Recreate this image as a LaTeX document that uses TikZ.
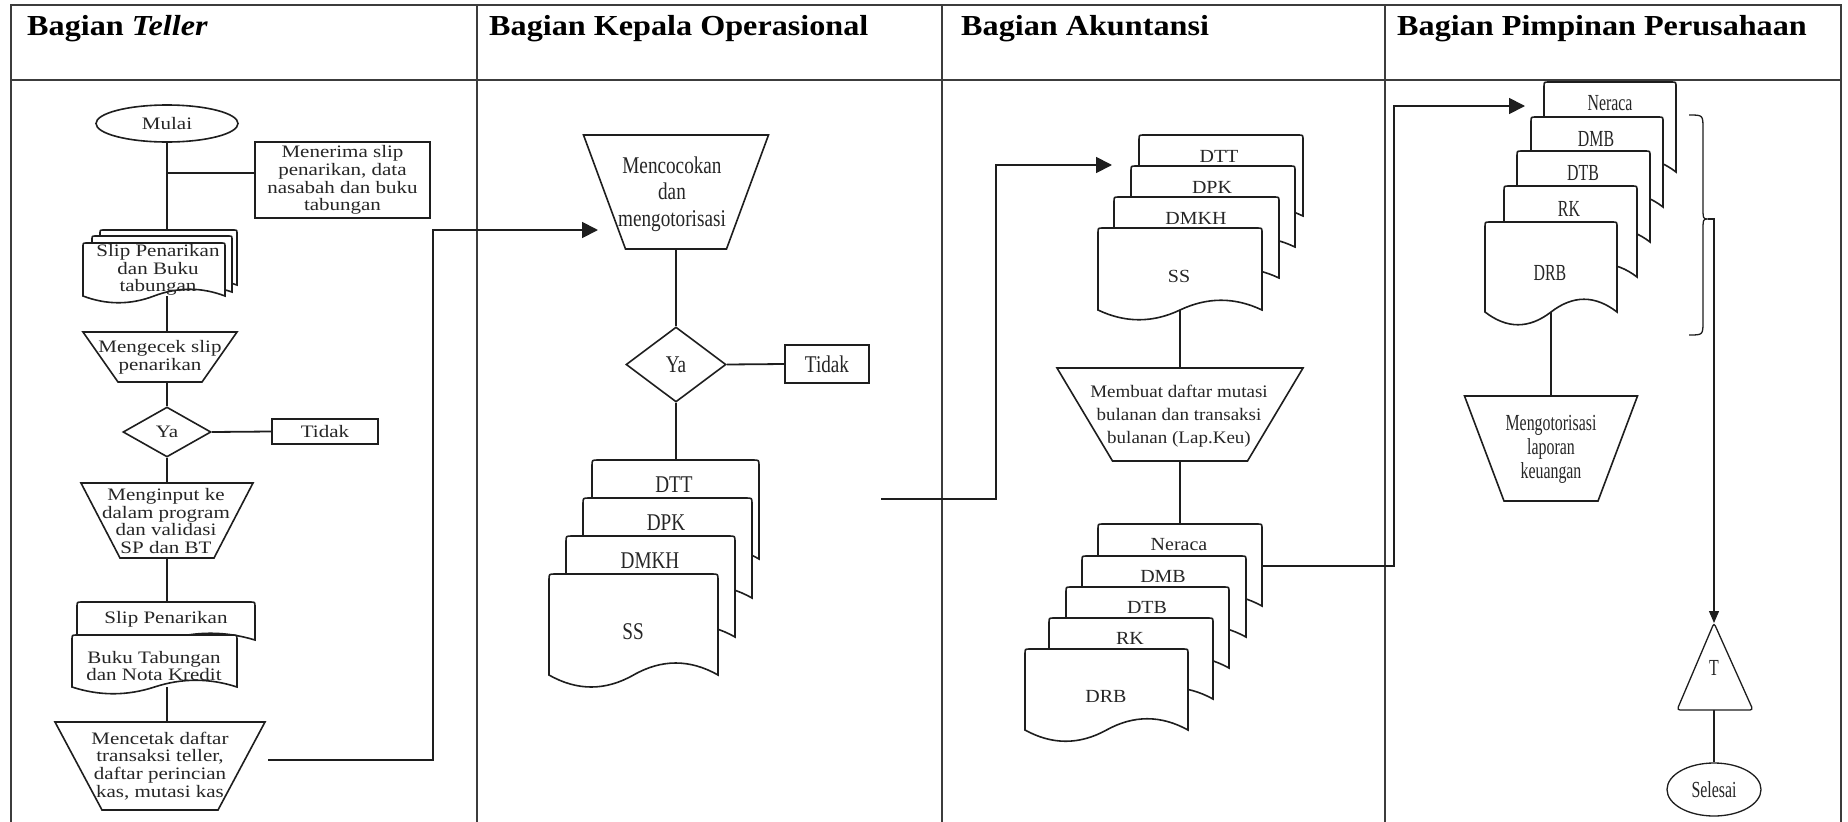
\documentclass[tikz,border=0pt]{standalone}
\usepackage{fontspec}
\setmainfont{Liberation Serif}
\newfontfamily\fT{Liberation Serif}[FakeStretch=1.11]
\newfontfamily\fA{Liberation Serif}[FakeStretch=1.2]
\newfontfamily\fB{Liberation Serif}[FakeStretch=0.8]
\newfontfamily\fC{Liberation Serif}[FakeStretch=1.08]
\newfontfamily\fD{Liberation Serif}[FakeStretch=0.69]
\usetikzlibrary{shapes.geometric,arrows.meta}
\pgfdeclarelayer{bg}
\pgfsetlayers{bg,main}
\definecolor{ln}{HTML}{1E1E1E}
\definecolor{tx}{HTML}{262626}
\definecolor{grid}{HTML}{3C3C3C}
\tikzset{
  shp/.style={draw=ln,line width=1.6pt,fill=white},
  conn/.style={draw=ln,line width=1.8pt},
  bigarr/.style={conn,-{Triangle[length=16pt,width=16pt]}},
  smallarr/.style={draw=ln,line width=1.3pt,-{Triangle[length=12pt,width=10pt]}},
  gridline/.style={draw=grid,line width=2pt},
  head/.style={font=\fT\bfseries\fontsize{29}{32}\selectfont,anchor=base west,inner sep=0},
  tA/.style={font=\fA\fontsize{17.5}{17.8}\selectfont,align=center,inner sep=0,text=tx},
  tB/.style={font=\fB\fontsize{24}{26.7}\selectfont,align=center,inner sep=0,text=tx},
  tC/.style={font=\fC\fontsize{17.6}{22.8}\selectfont,align=center,inner sep=0,text=tx},
  tCd/.style={font=\fC\fontsize{18.5}{20}\selectfont,align=center,inner sep=0,text=tx},
  tD/.style={font=\fD\fontsize{23}{24}\selectfont,align=center,inner sep=0,text=tx},
}
% document shape: #1 name, #2 L, #3 T, #4 R, #5 B (ends of wave), #6 wave control offset, #7 corner radius
\newcommand\docshape[7]{%
  \path[shp] (#2,#5) -- (#2,#3+#7) .. controls (#2,#3) .. (#2+#7,#3)
    -- (#4-#7,#3) .. controls (#4,#3) .. (#4,#3+#7) -- (#4,#5)
    .. controls ({#4-(#4-#2)/6},#5-#6) and ({#4-(#4-#2)/3},#5-#6) .. ({(#2+#4)/2},#5)
    .. controls ({#2+(#4-#2)/3},#5+#6) and ({#2+(#4-#2)/6},#5+#6) .. (#2,#5) -- cycle;
  \coordinate (#1-n) at ({(#2+#4)/2},#3);
  \coordinate (#1-s) at ({(#2+#4)/2},#5);
}
% trapezoid (wide top): #1 name, #2 cx, #3 top y, #4 top width, #5 bottom y, #6 bottom width
\newcommand\trapshape[6]{%
  \path[shp] ({#2-#4/2},#3) -- ({#2+#4/2},#3) -- ({#2+#6/2},#5) -- ({#2-#6/2},#5) -- cycle;
  \coordinate (#1-n) at (#2,#3);
  \coordinate (#1-s) at (#2,#5);
}
\begin{document}
\begin{tikzpicture}[x=1pt,y=-1pt]
\useasboundingbox (0,0) rectangle (1848,822);
\begin{pgfonlayer}{bg}
  \fill[white] (0,0) rectangle (1848,822);
  \draw[gridline] (11,822) -- (11,5) -- (1841,5) -- (1841,822);
  \draw[gridline] (11,80) -- (1841,80);
  \draw[gridline] (477,5) -- (477,822);
  \draw[gridline] (942,5) -- (942,822);
  \draw[gridline] (1385,5) -- (1385,822);
\end{pgfonlayer}

% headers
\node[head] (h1) at (27,35) {Bagian \textit{Teller}};
\node[head] (h2) at (489,35) {Bagian Kepala Operasional};
\node[head] (h3) at (961,35) {Bagian Akuntansi};
\node[head] (h4) at (1397,35) {Bagian Pimpinan Perusahaan};

% ---------------- Column 1: Teller
\node[shp,ellipse,minimum width=142pt,minimum height=37pt,inner sep=0,tA] (mulai) at (167,123.5) {Mulai};
\node[shp,rectangle,minimum width=175pt,minimum height=76pt,inner sep=0,tA] (terima) at (342.5,180) {Menerima slip\\penarikan, data\\nasabah dan buku\\tabungan};
\docshape{mdc}{100}{230}{237}{285}{8}{4}
\docshape{mdb}{92}{236}{232}{292}{8}{4}
\docshape{mda}{83}{243}{225}{296}{9}{4}
\node[tA] (mdtext) at (158,270) {Slip Penarikan\\dan Buku\\tabungan};
\trapshape{cek}{160}{332}{154}{382}{84}
\node[tA] (cektext) at (160,357) {Mengecek slip\\penarikan};
\node[shp,diamond,minimum width=88pt,minimum height=50pt,inner sep=0,tA] (ya1) at (167,432) {Ya};
\node[shp,rectangle,minimum width=106pt,minimum height=25pt,inner sep=0,tA] (tidak1) at (325,431.5) {Tidak};
\trapshape{input}{167}{483}{172}{558}{94}
\node[tA] (inputtext) at (166,521) {Menginput ke\\dalam program\\dan validasi\\SP dan BT};
\docshape{slipb}{77}{602}{255}{640}{9}{5}
\docshape{slipa}{72}{635}{237}{687}{9}{5}
\node[tA] (sliptext) at (166,619) {Slip Penarikan};
\node[tA] (bukutext) at (154,666) {Buku Tabungan\\dan Nota Kredit};
\trapshape{cetak}{160}{722}{210}{810}{116}
\node[tA] (cetaktext) at (160,766) {Mencetak daftar\\transaksi teller,\\daftar perincian\\kas, mutasi kas};

% ---------------- Column 2: Kepala Operasional
\trapshape{cocok}{676}{135}{185}{249}{101}
\node[tB] (cocoktext) at (672,194) {Mencocokan\\dan\\mengotorisasi};
\node[shp,diamond,minimum width=100pt,minimum height=75pt,inner sep=0,tB] (ya2) at (676,364.5) {Ya};
\node[shp,rectangle,minimum width=84pt,minimum height=38pt,inner sep=0,tB] (tidak2) at (827,364) {Tidak};
\docshape{ka}{592}{460}{759}{559}{16}{6}
\docshape{kb}{583}{498}{752}{598}{16}{6}
\docshape{kc}{566}{536}{735}{637}{16}{6}
\docshape{kd}{549}{574}{718}{675}{16}{6}
\node[tB] (katext) at (674,485) {DTT};
\node[tB] (kbtext) at (666,523) {DPK};
\node[tB] (kctext) at (650,561) {DMKH};
\node[tB] (kdtext) at (633,632) {SS};

% ---------------- Column 3: Akuntansi
\docshape{aa}{1139}{135}{1303}{216}{13}{5}
\docshape{ab}{1131}{166}{1295}{247}{13}{5}
\docshape{ac}{1114}{197}{1279}{278}{13}{5}
\docshape{ad}{1098}{228}{1262}{310}{13}{5}
\node[tCd] (aatext) at (1219,156) {DTT};
\node[tCd] (abtext) at (1212,187) {DPK};
\node[tCd] (actext) at (1196,218) {DMKH};
\node[tCd] (adtext) at (1179,276) {SS};
\trapshape{buat}{1180}{368}{246}{461}{135}
\node[tC] (buattext) at (1179,416) {Membuat daftar mutasi\\bulanan dan transaksi\\bulanan (Lap.Keu)};
\docshape{ba}{1098}{524}{1262}{606}{15}{5}
\docshape{bb}{1082}{556}{1246}{637}{15}{5}
\docshape{bc}{1066}{587}{1229}{668}{15}{5}
\docshape{bd}{1049}{618}{1213}{699}{15}{5}
\docshape{be}{1025}{649}{1188}{730}{15}{5}
\node[tCd] (batext) at (1179,545) {Neraca};
\node[tCd] (bbtext) at (1163,576) {DMB};
\node[tCd] (bctext) at (1147,607) {DTB};
\node[tCd] (bdtext) at (1130,638) {RK};
\node[tCd] (betext) at (1106,696) {DRB};

% ---------------- Column 4: Pimpinan
\docshape{pa}{1544}{82}{1676}{172}{17}{5}
\docshape{pb}{1531}{117}{1663}{207}{17}{5}
\docshape{pc}{1517}{151}{1650}{242}{17}{5}
\docshape{pd}{1504}{186}{1637}{277}{17}{5}
\docshape{pe}{1485}{222}{1617}{312}{17}{5}
\node[tD] (patext) at (1610,103) {Neraca};
\node[tD] (pbtext) at (1596,139) {DMB};
\node[tD] (pctext) at (1583,173) {DTB};
\node[tD] (pdtext) at (1569,209) {RK};
\node[tD] (petext) at (1550,273) {DRB};
\trapshape{otor}{1551}{396}{173}{501}{94}
\node[tD] (otortext) at (1551,449) {Mengotorisasi\\laporan\\keuangan};
% curly brace
\draw[draw=ln,line width=1.3pt] (1689,115) .. controls (1703,115) .. (1703,129) -- (1703,206)
  .. controls (1703,219) .. (1708,219) .. controls (1703,219) .. (1703,232) -- (1703,321)
  .. controls (1703,335) .. (1689,335);
\coordinate (bracetip) at (1708,219);
\coordinate (bend4) at (1714,219);
\coordinate (Ttop) at (1714,623);
\path[shp,line width=1.3pt,rounded corners=3pt] (Ttop) -- (1753,710) -- (1677,710) -- cycle;
\coordinate (Tbot) at (1714,710);
\node[tD] (T) at (1714,668) {T};
\node[shp,ellipse,line width=1.3pt,minimum width=94pt,minimum height=53pt,inner sep=0,tD] (selesai) at (1714,789.5) {Selesai};

% ---------------- connector points
\coordinate (c1a) at (268,760);
\coordinate (c1b) at (433,760);
\coordinate (c1c) at (433,230);
\coordinate (c1d) at (598,230);
\coordinate (c2a) at (881,499);
\coordinate (c2b) at (996,499);
\coordinate (c2c) at (996,165);
\coordinate (c2d) at (1112,165);
\coordinate (c3a) at (1263,566);
\coordinate (c3b) at (1394,566);
\coordinate (c3c) at (1394,106);
\coordinate (c3d) at (1525,106);

\begin{pgfonlayer}{bg}
  % column 1
  \draw[conn] (mulai.south) -- (mulai.south |- mdc-n);
  \draw[conn] (mulai.south |- terima.west) ++(0,-7) -- ([yshift=7pt]terima.west);
  \draw[conn] (mulai.south |- mda-s) -- (mulai.south |- cek-n);
  \draw[conn] (mulai.south |- cek-s) -- (ya1.north);
  \draw[conn] (ya1.east) -- (tidak1.west);
  \draw[conn] (ya1.south) -- (input-n);
  \draw[conn] (input-s) -- (input-s |- slipb-n);
  \draw[conn] (input-s |- slipa-s) -- (input-s |- cetak-n);
  \draw[bigarr] (c1a) -- (c1b) -- (c1c) -- (c1d);
  % column 2
  \draw[conn] (cocok-s) -- (ya2.north);
  \draw[conn] (ya2.east) -- (tidak2.west);
  \draw[conn] (ya2.south) -- (ya2.south |- ka-n);
  \draw[bigarr] (c2a) -- (c2b) -- (c2c) -- (c2d);
  % column 3
  \draw[conn] (ad-s) -- (buat-n);
  \draw[conn] (buat-s) -- (ba-n);
  \draw[bigarr] (c3a) -- (c3b) -- (c3c) -- (c3d);
  % column 4
  \draw[conn] (pe-s) -- (otor-n);
  \draw[smallarr] (bracetip) -- (bend4) -- (Ttop);
  \draw[draw=ln,line width=1.3pt] (Tbot) -- (selesai.north);
\end{pgfonlayer}
\end{tikzpicture}
\end{document}
